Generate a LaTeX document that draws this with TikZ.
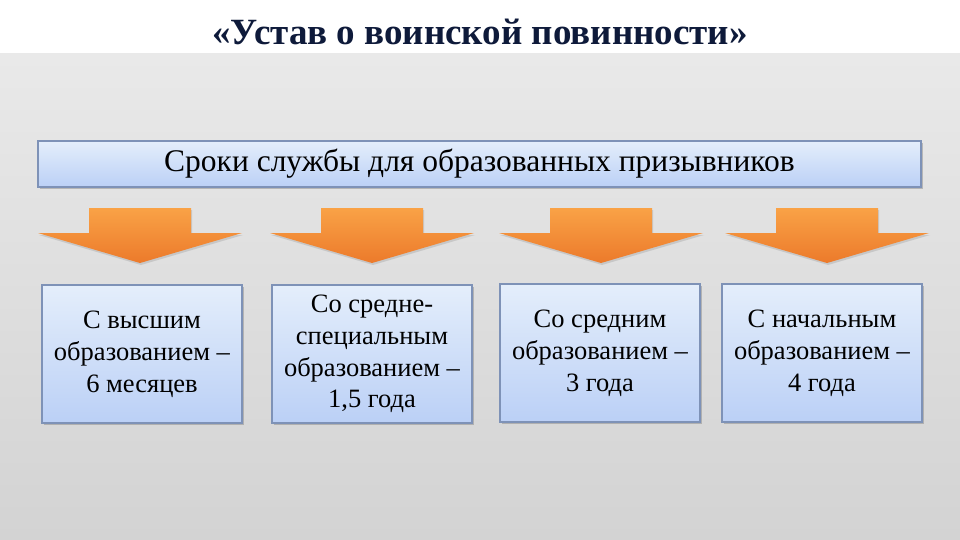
\documentclass[tikz,border=0pt]{standalone}
\usepackage{fontspec}
\setmainfont{Liberation Serif}
\usetikzlibrary{positioning,shadows}
\definecolor{titleblue}{HTML}{0E1A3A}
\definecolor{boxtop}{HTML}{E4EEFB}
\definecolor{boxbottom}{HTML}{BBD0F6}
\definecolor{boxline}{HTML}{7E92B7}
\definecolor{arrowtop}{HTML}{F9A246}
\definecolor{arrowbottom}{HTML}{EC7A2B}
\definecolor{bgtop}{HTML}{E9E9E9}
\definecolor{bgbottom}{HTML}{D3D3D3}
\tikzset {
    head box/.style={
        top color=boxtop,
        bottom color=boxbottom,
        draw=boxline,
        line width=1.2pt,
        rectangle, % the wide strip on top
        minimum width=883pt,
        minimum height=46pt,
        align=center,
        font=\fontsize{31.5}{36}\selectfont,
        drop shadow={opacity=0.45, shadow xshift=1.5pt, shadow yshift=-2pt},
    },
    term box/.style={
        top color=boxtop,
        bottom color=boxbottom,
        draw=boxline,
        line width=1.2pt,
        rectangle, % one box for each term
        minimum width=200pt,
        minimum height=138pt,
        align=center,
        font=\fontsize{26.5}{31.8}\selectfont,
        drop shadow={opacity=0.45, shadow xshift=1.5pt, shadow yshift=-2pt},
    },
    down arrow/.style={
        top color=arrowtop,
        bottom color=arrowbottom,
        draw=none,
        drop shadow={opacity=0.25, shadow xshift=1pt, shadow yshift=-2pt},
    },
}

\begin{document}
\begin{tikzpicture}[x=1pt, y=-1pt]
\useasboundingbox (0,0) rectangle (960,540);
\fill[white] (0,0) rectangle (960,54);
\shade[top color=bgtop, bottom color=bgbottom] (0,54) rectangle (960,540);

\node[text=titleblue, font=\bfseries\fontsize{37}{40}\selectfont] at (480, 32) (title) {«Устав о воинской повинности»};

\node[head box] at (479.5, 164) (terms) {Сроки службы для образованных призывников};

\node[term box] at (142, 354) (higher) {С высшим\\образованием --\\6 месяцев};
\node[term box] at (372, 354) (special) {Со средне-\\специальным\\образованием --\\1,5 года};
\node[term box] at (600, 353) (middle) {Со средним\\образованием --\\3 года};
\node[term box] at (822, 353) (primary) {С начальным\\образованием --\\4 года};

\foreach \x in {140, 372, 601, 827}
    \shade[down arrow] (\x-51, 208) -- (\x+51, 208) -- (\x+51, 233) -- (\x+102, 233)
        -- (\x, 263) -- (\x-102, 233) -- (\x-51, 233) -- cycle;
\end{tikzpicture}
\end{document}
